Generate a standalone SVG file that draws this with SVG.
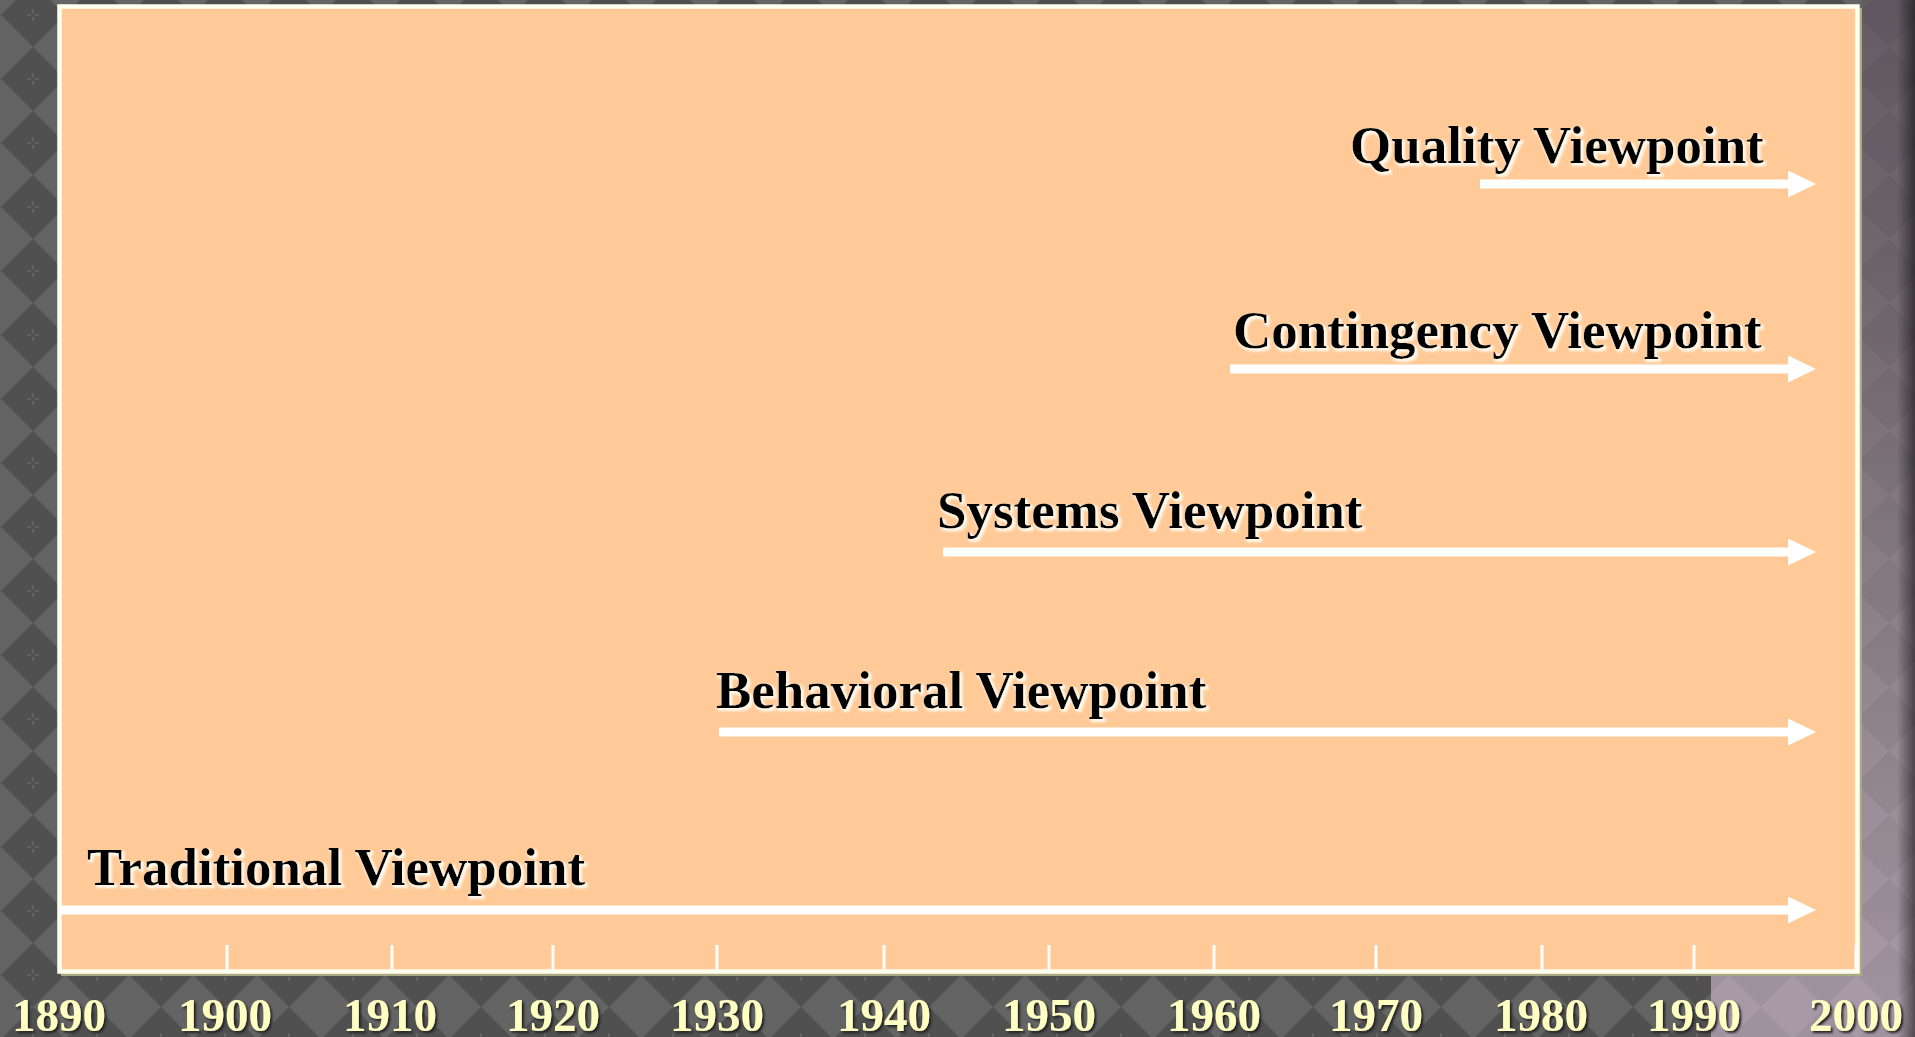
<svg xmlns="http://www.w3.org/2000/svg" width="1915" height="1037" viewBox="0 0 1915 1037">
  <defs>
    <style>
      .label { font-family: "Liberation Serif", "Times New Roman", serif; font-weight: bold; font-size: 53px; fill: #000; filter: url(#halo); }
      .year { font-family: "Liberation Serif", "Times New Roman", serif; font-weight: bold; font-size: 47px; fill: #ffffc4; text-anchor: middle; filter: url(#drop); }
      .flow { stroke: #fff; stroke-width: 9; fill: none; marker-end: url(#head); }
      .tick { stroke: #fff; stroke-width: 3; }
    </style>
    <!-- grey diamond tile of the backdrop -->
    <pattern id="diamonds" patternUnits="userSpaceOnUse" x="1" y="-17" width="64" height="64">
      <rect width="64" height="64" fill="#646464"/>
      <polygon points="32,0 64,32 32,64 0,32" fill="#505050"/>
      <g stroke="#6e6e6e" stroke-width="1.2">
        <line x1="26" y1="32" x2="30" y2="32"/>
        <line x1="34" y1="32" x2="38" y2="32"/>
        <line x1="32" y1="26" x2="32" y2="30"/>
        <line x1="32" y1="34" x2="32" y2="38"/>
      </g>
    </pattern>
    <!-- faint diamond overlay for the tinted right side -->
    <pattern id="diamondsFaint" patternUnits="userSpaceOnUse" x="1" y="-17" width="64" height="64">
      <polygon points="32,0 64,32 32,64 0,32" fill="#000" fill-opacity="0.05"/>
    </pattern>
    <linearGradient id="tint" x1="0" y1="0" x2="0" y2="1">
      <stop offset="0" stop-color="#645c64"/>
      <stop offset="0.3" stop-color="#746a72"/>
      <stop offset="0.68" stop-color="#948890"/>
      <stop offset="1" stop-color="#ab9ba9"/>
    </linearGradient>
    <linearGradient id="edge" x1="0" y1="0" x2="1" y2="0">
      <stop offset="0" stop-color="#000" stop-opacity="0"/>
      <stop offset="1" stop-color="#000" stop-opacity="0.5"/>
    </linearGradient>
    <filter id="halo" x="-5%" y="-30%" width="110%" height="160%">
      <feMorphology in="SourceAlpha" operator="dilate" radius="1" result="fat"/>
      <feOffset in="fat" dx="2" dy="2" result="moved"/>
      <feGaussianBlur in="moved" stdDeviation="1.2" result="soft"/>
      <feFlood flood-color="#fff8ea"/>
      <feComposite in2="soft" operator="in" result="glow"/>
      <feMerge><feMergeNode in="glow"/><feMergeNode in="SourceGraphic"/></feMerge>
    </filter>
    <filter id="drop" x="-10%" y="-20%" width="130%" height="150%">
      <feOffset in="SourceAlpha" dx="2" dy="2" result="moved"/>
      <feGaussianBlur in="moved" stdDeviation="0.8" result="soft"/>
      <feFlood flood-color="#222"/>
      <feComposite in2="soft" operator="in" result="shade"/>
      <feMerge><feMergeNode in="shade"/><feMergeNode in="SourceGraphic"/></feMerge>
    </filter>
    <marker id="head" markerUnits="userSpaceOnUse" viewBox="0 0 28 27" refX="2" refY="13.5" markerWidth="28" markerHeight="27" orient="auto">
      <path d="M0,0 L28,13.5 L0,27 Z" fill="#fff"/>
    </marker>
  </defs>

  <!-- backdrop -->
  <g id="backdrop">
    <rect width="1915" height="1037" fill="url(#diamonds)"/>
    <rect x="1862" y="0" width="53" height="1037" fill="url(#tint)"/>
    <rect x="1711" y="975" width="204" height="62" fill="#a999a7"/>
    <rect x="1862" y="0" width="53" height="1037" fill="url(#diamondsFaint)"/>
    <rect x="1711" y="975" width="151" height="62" fill="url(#diamondsFaint)"/>
    <rect x="1897" y="0" width="18" height="1037" fill="url(#edge)"/>
  </g>

  <!-- timeline panel -->
  <g id="panel">
    <rect x="61" y="8" width="1801" height="968" fill="#a9a982"/>
    <rect x="59.5" y="6.5" width="1798" height="965" fill="#ffca98" stroke="#fffff0" stroke-width="4.5"/>
  </g>

  <!-- axis ticks -->
  <g id="ticks">
    <line class="tick" x1="227" y1="945" x2="227" y2="970"/>
    <line class="tick" x1="392" y1="945" x2="392" y2="970"/>
    <line class="tick" x1="553" y1="945" x2="553" y2="970"/>
    <line class="tick" x1="717" y1="945" x2="717" y2="970"/>
    <line class="tick" x1="884" y1="945" x2="884" y2="970"/>
    <line class="tick" x1="1049" y1="945" x2="1049" y2="970"/>
    <line class="tick" x1="1214" y1="945" x2="1214" y2="970"/>
    <line class="tick" x1="1376" y1="945" x2="1376" y2="970"/>
    <line class="tick" x1="1542" y1="945" x2="1542" y2="970"/>
    <line class="tick" x1="1694" y1="945" x2="1694" y2="970"/>
    <line class="tick" x1="1856" y1="945" x2="1856" y2="970"/>
  </g>

  <!-- year labels -->
  <g id="years">
    <text class="year" x="59" y="1031">1890</text>
    <text class="year" x="225" y="1031">1900</text>
    <text class="year" x="390" y="1031">1910</text>
    <text class="year" x="553" y="1031">1920</text>
    <text class="year" x="717" y="1031">1930</text>
    <text class="year" x="884" y="1031">1940</text>
    <text class="year" x="1049" y="1031">1950</text>
    <text class="year" x="1214" y="1031">1960</text>
    <text class="year" x="1376" y="1031">1970</text>
    <text class="year" x="1541" y="1031">1980</text>
    <text class="year" x="1694" y="1031">1990</text>
    <text class="year" x="1856" y="1031">2000</text>
  </g>

  <!-- viewpoint spans -->
  <g id="connectors">
    <path class="flow" d="M1480,184 H1790"/>
    <path class="flow" d="M1230,369 H1790"/>
    <path class="flow" d="M943,552 H1790"/>
    <path class="flow" d="M719,732 H1790"/>
    <path class="flow" d="M60,910 H1790"/>
  </g>

  <g id="quality"><text class="label" x="1350" y="163">Quality Viewpoint</text></g>
  <g id="contingency"><text class="label" x="1233" y="348">Contingency Viewpoint</text></g>
  <g id="systems"><text class="label" x="937" y="528">Systems Viewpoint</text></g>
  <g id="behavioral"><text class="label" x="716" y="708">Behavioral Viewpoint</text></g>
  <g id="traditional"><text class="label" x="87" y="885">Traditional Viewpoint</text></g>
</svg>
